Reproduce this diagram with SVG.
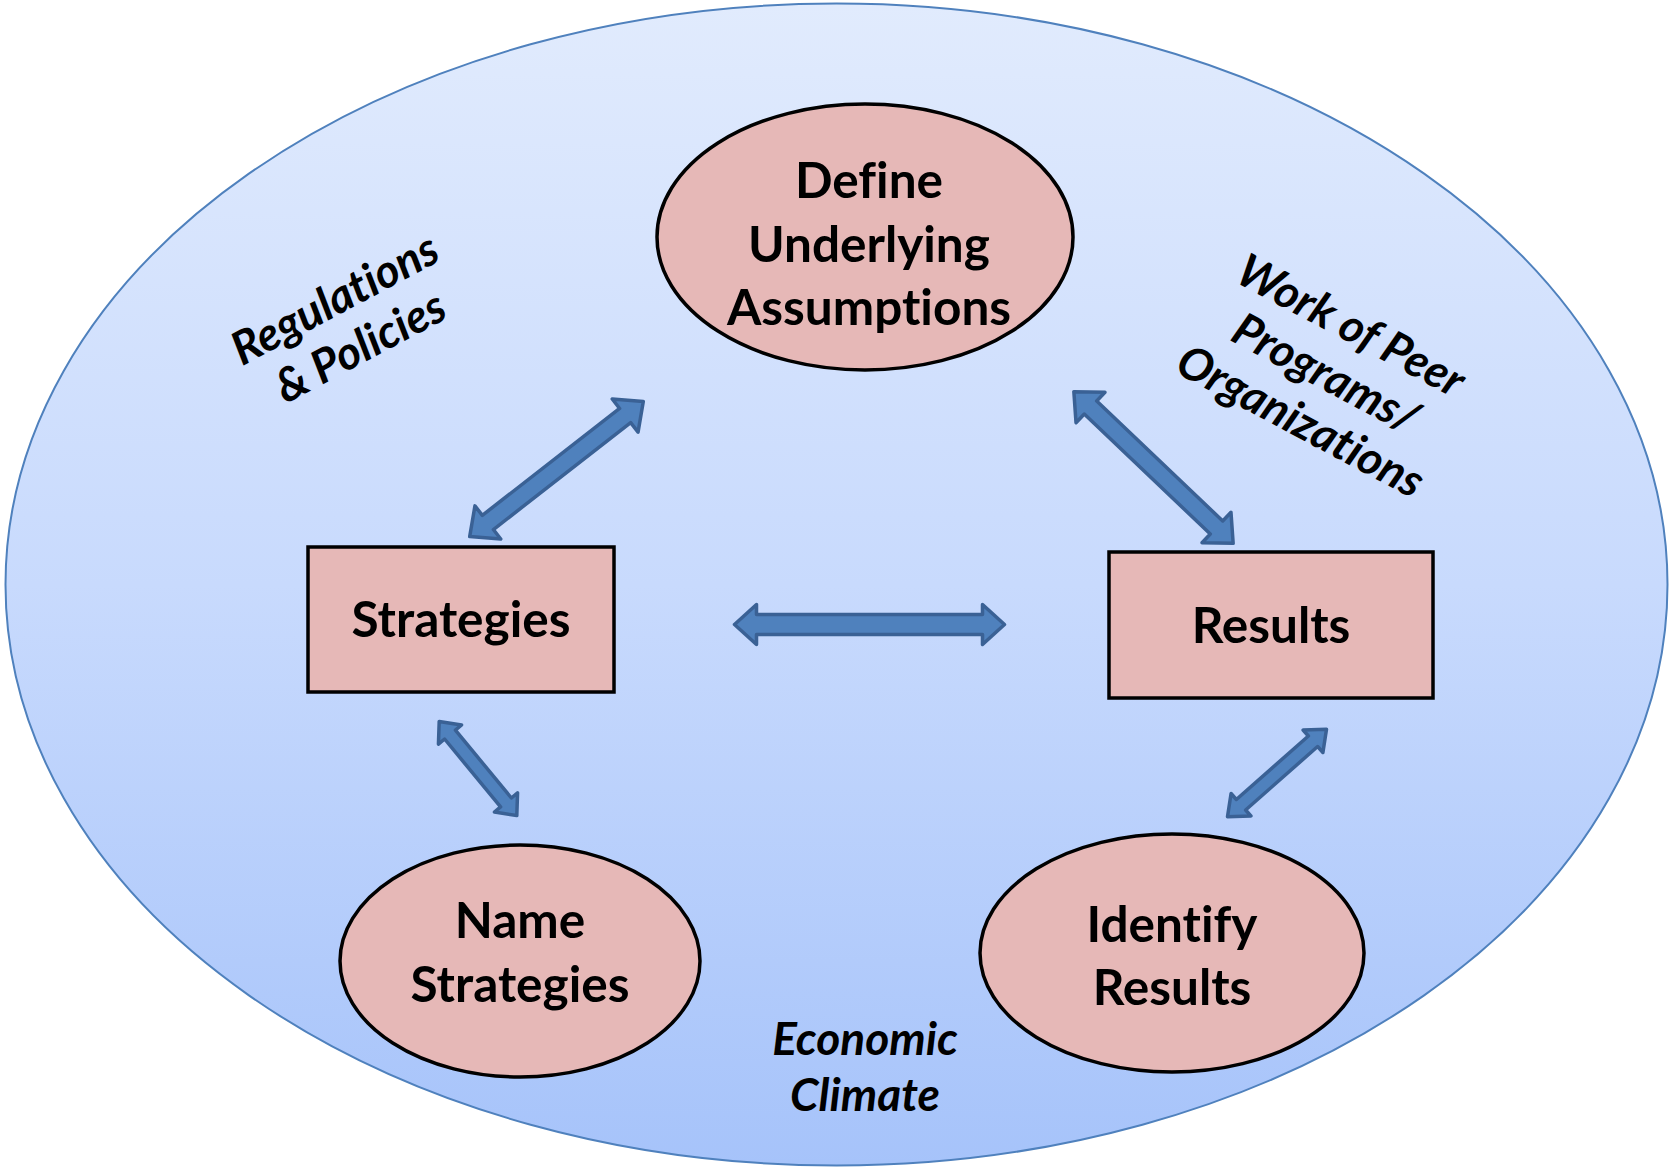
<svg xmlns="http://www.w3.org/2000/svg" width="1671" height="1169" viewBox="0 0 1671 1169">
<defs>
<linearGradient id="bg" x1="0" y1="0" x2="0" y2="1">
<stop offset="0" stop-color="#e1ebfd"/>
<stop offset="0.5" stop-color="#c8dafd"/>
<stop offset="1" stop-color="#a6c3fa"/>
</linearGradient>
<style>
text{font-variant-ligatures:none;font-feature-settings:"liga" 0,"clig" 0}
.node{fill:#e6b8b7;stroke:#000;stroke-width:3.5}
.lbl{font-family:Lato,"Open Sans","Liberation Sans",sans-serif;font-weight:bold;font-size:49.5px;fill:#000;text-anchor:middle}
.ctx{font-family:Lato,"Open Sans","Liberation Sans",sans-serif;font-weight:bold;font-style:italic;font-size:46px;fill:#000;text-anchor:middle}
.arr{fill:#4f81bd;stroke:#3a6195;stroke-width:3.5;stroke-linejoin:round}
</style>
</defs>
<rect width="1671" height="1169" fill="#fff"/>
<g id="climate">
<ellipse cx="836.5" cy="584.5" rx="831" ry="581" fill="url(#bg)" stroke="#4f81bd" stroke-width="2"/>
</g>
<g id="connectors">
<path class="arr" transform="translate(556.5,469) rotate(-37.9)" d="M-110,0 L-87,-21 L-87,-9 L87,-9 L87,-21 L110,0 L87,21 L87,9 L-87,9 L-87,21 Z"/>
<path class="arr" transform="translate(1153.5,467.5) rotate(43.6)" d="M-110,0 L-87,-21 L-87,-9 L87,-9 L87,-21 L110,0 L87,21 L87,9 L-87,9 L-87,21 Z"/>
<path class="arr" transform="translate(869.5,624.5)" d="M-135,0 L-113,-20 L-113,-10 L113,-10 L113,-20 L135,0 L113,20 L113,10 L-113,10 L-113,20 Z"/>
<path class="arr" transform="translate(478,768.5) rotate(50.5)" d="M-61,0 L-44,-15 L-44,-7 L44,-7 L44,-15 L61,0 L44,15 L44,7 L-44,7 L-44,15 Z"/>
<path class="arr" transform="translate(1277,773) rotate(-41.4)" d="M-66,0 L-48,-15 L-48,-7 L48,-7 L48,-15 L66,0 L48,15 L48,7 L-48,7 L-48,15 Z"/>
</g>
<g id="define">
<ellipse class="node" cx="865" cy="237" rx="208" ry="133"/>
<text class="lbl" x="869" y="198">Define</text>
<text class="lbl" x="869" y="262">Underlying</text>
<text class="lbl" x="869" y="325">Assumptions</text>
</g>
<g id="strategies">
<rect class="node" x="308" y="547" width="306" height="145"/>
<text class="lbl" x="461" y="637">Strategies</text>
</g>
<g id="results">
<rect class="node" x="1109" y="552" width="324" height="146"/>
<text class="lbl" x="1271" y="643">Results</text>
</g>
<g id="name-strategies">
<ellipse class="node" cx="520" cy="961" rx="180" ry="116"/>
<text class="lbl" x="520" y="938">Name</text>
<text class="lbl" x="520" y="1002">Strategies</text>
</g>
<g id="identify-results">
<ellipse class="node" cx="1172" cy="953" rx="192" ry="119"/>
<text class="lbl" x="1172" y="942">Identify</text>
<text class="lbl" x="1172" y="1005">Results</text>
</g>
<g id="context-labels">
<g transform="translate(346,320) rotate(-28)">
<text class="ctx" x="0" y="-8">Regulations</text>
<text class="ctx" x="0" y="46">&amp; Policies</text>
</g>
<g transform="translate(1325,375) rotate(28)">
<text class="ctx" x="0" y="-40">Work of Peer</text>
<text class="ctx" x="0" y="14">Programs/</text>
<text class="ctx" x="0" y="68">Organizations</text>
</g>
<text class="ctx" x="865" y="1055">Economic</text>
<text class="ctx" x="865" y="1111">Climate</text>
</g>
</svg>
